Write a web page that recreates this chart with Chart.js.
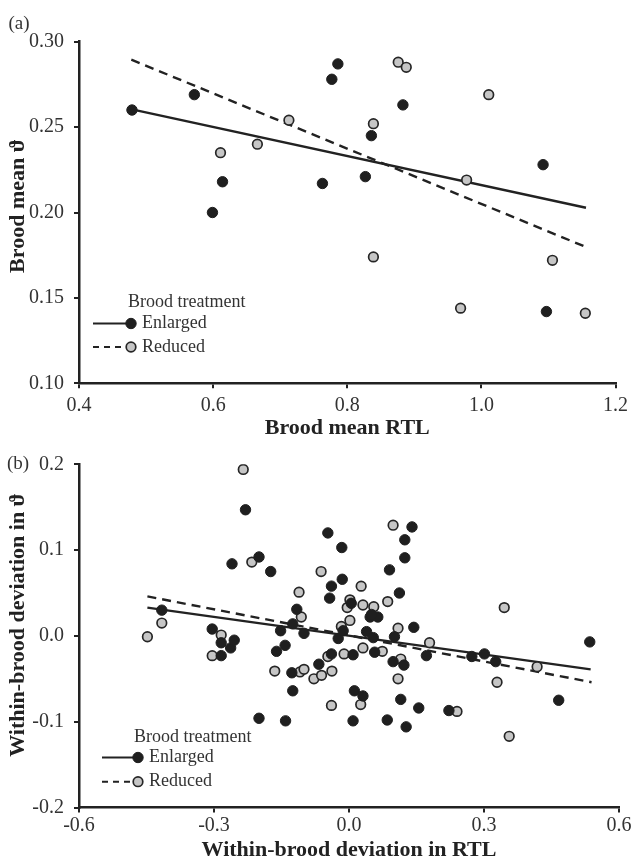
<!DOCTYPE html>
<html>
<head>
<meta charset="utf-8">
<script src="https://cdn.jsdelivr.net/npm/chart.js@4.4.1/dist/chart.umd.min.js"></script>
<style>
  body { margin: 0; background: #fff; }
  .panel { position: absolute; left: 0; width: 633px; }
  #wrapA { top: 0; height: 450px; }
  #wrapB { top: 440px; height: 424px; }
</style>
</head>
<body>
<div class="panel" id="wrapA"><canvas id="chartA" width="633" height="450"></canvas></div>
<div class="panel" id="wrapB"><canvas id="chartB" width="633" height="424"></canvas></div>
<script>
/* ---------- DATA ---------- */

const groups = ["Enlarged", "Reduced"];

// (a) brood means
const aEnlargedX = [0.479, 0.572, 0.599, 0.614, 0.763, 0.777, 0.786, 0.827, 0.836, 0.883, 1.092, 1.097];
const aEnlargedY = [0.260, 0.269, 0.200, 0.218, 0.217, 0.278, 0.287, 0.221, 0.245, 0.263, 0.228, 0.142];
const aReducedX = [0.611, 0.666, 0.713, 0.839, 0.839, 0.876, 0.888, 0.969, 0.978, 1.011, 1.106, 1.155];
const aReducedY = [0.235, 0.240, 0.254, 0.252, 0.174, 0.288, 0.285, 0.144, 0.219, 0.269, 0.172, 0.141];
const aFitEnlargedX = [0.479, 1.156];
const aFitEnlargedY = [0.2604, 0.2028];
const aFitReducedX = [0.478, 1.159];
const aFitReducedY = [0.2895, 0.1793];

// (b) within-brood deviations
const bEnlargedX = [-0.416, -0.304, -0.284, -0.284, -0.263, -0.255, -0.260, -0.230, -0.200, -0.174,
  -0.200, -0.152, -0.161, -0.142, -0.141, -0.127, -0.125, -0.125, -0.116, -0.100,
  -0.067, -0.047, -0.039, -0.043, -0.039, -0.024, -0.016, -0.015, -0.013, 0.005,
  0.009, 0.012, 0.031, 0.009, 0.039, 0.047, 0.054, 0.057, 0.064, 0.050,
  0.090, 0.085, 0.101, 0.098, 0.112, 0.124, 0.124, 0.115, 0.122, 0.127,
  0.140, 0.144, 0.155, 0.172, 0.222, 0.273, 0.301, 0.326, 0.466, 0.535];
const bEnlargedY = [0.030, 0.008, -0.008, -0.023, -0.014, -0.005, 0.084, 0.147, 0.092, 0.075,
  -0.096, 0.006, -0.018, -0.011, -0.099, -0.043, -0.064, 0.014, 0.031, 0.003,
  -0.033, 0.120, 0.058, 0.044, -0.021, -0.003, 0.103, 0.066, 0.006, 0.038,
  -0.022, -0.064, -0.070, -0.099, 0.005, 0.022, -0.002, -0.019, 0.022, 0.025,
  0.077, -0.098, -0.001, -0.030, 0.050, 0.091, 0.112, -0.074, -0.034, -0.106,
  0.127, 0.010, -0.084, -0.023, -0.087, -0.024, -0.021, -0.030, -0.075, -0.007];
const bReducedX = [-0.448, -0.416, -0.304, -0.284, -0.235, -0.216, -0.165, -0.111, -0.106, -0.109,
  -0.100, -0.078, -0.061, -0.062, -0.047, -0.038, -0.039, -0.017, -0.011, -0.004,
  0.002, 0.002, 0.027, 0.031, 0.031, 0.026, 0.055, 0.074, 0.086, 0.098,
  0.109, 0.115, 0.109, 0.179, 0.240, 0.329, 0.345, 0.356, 0.418];
const bReducedY = [-0.001, 0.015, -0.023, 0.001, 0.194, 0.086, -0.041, 0.051, 0.022, -0.042,
  -0.039, -0.050, -0.046, 0.075, -0.024, -0.041, -0.081, 0.011, -0.021, 0.033,
  0.042, 0.018, 0.058, 0.036, -0.014, -0.080, 0.034, -0.018, 0.040, 0.129,
  0.009, -0.027, -0.050, -0.008, -0.088, -0.054, 0.033, -0.117, -0.036];
const bFitEnlargedX = [-0.448, 0.537];
const bFitEnlargedY = [0.033, -0.039];
const bFitReducedX = [-0.448, 0.539];
const bFitReducedY = [0.046, -0.054];

/* ---------- STYLE ---------- */

const SERIF = '"Liberation Serif", "DejaVu Serif", serif';
const INK = "#222";
const TXT = "#333";
const DARK_FILL = "#1f1f1f";
const LIGHT_FILL = "#c6c6c6";

Chart.defaults.font.family = SERIF;

function pts(xs, ys) {
  return xs.map((x, i) => ({ x, y: ys[i] }));
}

function fmt(v, d) {
  if (Math.abs(v) < 1e-9) v = 0;
  return v.toFixed(d);
}

/* ---------- PLUGIN: TAG, Y TITLE, LEGEND ---------- */

const panelDecor = {
  id: "panelDecor",
  afterDraw(chart, args, o) {
    const ctx = chart.ctx;
    ctx.save();
    ctx.fillStyle = TXT;
    ctx.textBaseline = "middle";

    ctx.textAlign = "center";
    ctx.font = "19px " + SERIF;
    ctx.fillText(o.tag, o.tagX, o.tagY);

    // y title sits a little above the axis middle in the original
    ctx.save();
    ctx.translate(o.yTitleX, o.yTitleY);
    ctx.rotate(-Math.PI / 2);
    ctx.fillStyle = INK;
    ctx.font = "bold 22px " + SERIF;
    ctx.fillText(o.yTitle, 0, 0);
    ctx.restore();

    ctx.textAlign = "left";
    ctx.font = "18px " + SERIF;
    ctx.fillText("Brood treatment", o.titleX, o.titleY);

    groups.forEach((g, i) => {
      const pt = chart.data.datasets[i];
      const ln = chart.data.datasets[i + 2];
      const y = o.rowY[i];

      ctx.strokeStyle = ln.borderColor;
      ctx.lineWidth = 2;
      ctx.setLineDash(ln.borderDash ? [6, 5] : []);
      ctx.beginPath();
      ctx.moveTo(o.lineX0, y);
      ctx.lineTo(o.markX, y);
      ctx.stroke();
      ctx.setLineDash([]);

      ctx.beginPath();
      ctx.arc(o.markX, y, pt.pointRadius, 0, Math.PI * 2);
      ctx.fillStyle = pt.backgroundColor;
      ctx.fill();
      ctx.lineWidth = pt.borderWidth;
      ctx.strokeStyle = pt.borderColor;
      ctx.stroke();

      ctx.fillStyle = TXT;
      ctx.fillText(g, o.textX, y);
    });
    ctx.restore();
  }
};

/* ---------- CHART ---------- */

function makePanel(el, cfg) {
  const tickFont = { family: SERIF, size: 20 };
  const titleFont = { family: SERIF, size: 22, weight: "bold" };
  const grid = { drawOnChartArea: false, color: INK, lineWidth: 2, tickLength: 5 };
  const border = { color: INK, width: 2.5 };

  return new Chart(document.getElementById(el), {
    type: "scatter",
    data: {
      datasets: [
        {
          label: groups[0],
          data: pts(cfg.enX, cfg.enY),
          backgroundColor: DARK_FILL,
          borderColor: DARK_FILL,
          borderWidth: 1,
          pointRadius: 5.2
        },
        {
          label: groups[1],
          data: pts(cfg.reX, cfg.reY),
          backgroundColor: LIGHT_FILL,
          borderColor: "#262626",
          borderWidth: 1.7,
          pointRadius: 4.8
        },
        {
          type: "line",
          label: groups[0] + " fit",
          data: pts(cfg.fitEnX, cfg.fitEnY),
          borderColor: INK,
          borderWidth: 2.4,
          pointRadius: 0,
          fill: false
        },
        {
          type: "line",
          label: groups[1] + " fit",
          data: pts(cfg.fitReX, cfg.fitReY),
          borderColor: INK,
          borderWidth: 2.4,
          borderDash: [9, 6],
          pointRadius: 0,
          fill: false
        }
      ]
    },
    options: {
      responsive: false,
      animation: false,
      events: [],
      layout: { autoPadding: false, padding: cfg.padding },
      plugins: {
        legend: { display: false },
        tooltip: { enabled: false },
        panelDecor: cfg.decor
      },
      scales: {
        x: {
          type: "linear",
          min: cfg.xMin,
          max: cfg.xMax,
          ticks: {
            stepSize: cfg.xStep,
            padding: cfg.xTickPad,
            color: TXT,
            font: tickFont,
            callback: v => fmt(v, 1)
          },
          grid,
          border,
          title: {
            display: true,
            text: cfg.xTitle,
            color: INK,
            font: titleFont,
            padding: { top: 0, bottom: cfg.xTitlePad }
          },
          afterFit: s => { s.height = cfg.xHeight; }
        },
        y: {
          type: "linear",
          min: cfg.yMin,
          max: cfg.yMax,
          ticks: {
            stepSize: cfg.yStep,
            padding: 10,
            color: TXT,
            font: tickFont,
            callback: v => fmt(v, cfg.yDigits)
          },
          grid,
          border,
          afterFit: s => { s.width = 79; }
        }
      }
    },
    plugins: [panelDecor]
  });
}

/* ---------- INIT ---------- */

makePanel("chartA", {
  enX: aEnlargedX, enY: aEnlargedY,
  reX: aReducedX, reY: aReducedY,
  fitEnX: aFitEnlargedX, fitEnY: aFitEnlargedY,
  fitReX: aFitReducedX, fitReY: aFitReducedY,
  xMin: 0.4, xMax: 1.2, xStep: 0.2,
  yMin: 0.1, yMax: 0.3, yStep: 0.05, yDigits: 2,
  xTitle: "Brood mean RTL",
  padding: { left: 0, top: 41.7, right: 15, bottom: 0 },
  xHeight: 66.7, xTickPad: 5, xTitlePad: 8,
  decor: {
    tag: "(a)", tagX: 19, tagY: 24,
    yTitle: "Brood mean \u03D1", yTitleX: 18, yTitleY: 206,
    titleX: 128, titleY: 302,
    lineX0: 93, markX: 131, textX: 142,
    rowY: [323.5, 347]
  }
});

makePanel("chartB", {
  enX: bEnlargedX, enY: bEnlargedY,
  reX: bReducedX, reY: bReducedY,
  fitEnX: bFitEnlargedX, fitEnY: bFitEnlargedY,
  fitReX: bFitReducedX, fitReY: bFitReducedY,
  xMin: -0.6, xMax: 0.6, xStep: 0.3,
  yMin: -0.2, yMax: 0.2, yStep: 0.1, yDigits: 1,
  xTitle: "Within-brood deviation in RTL",
  padding: { left: 0, top: 24.3, right: 11, bottom: 0 },
  xHeight: 56.5, xTickPad: 1.5, xTitlePad: 0,
  decor: {
    tag: "(b)", tagX: 18, tagY: 24,
    yTitle: "Within-brood deviation in \u03D1", yTitleX: 18, yTitleY: 185,
    titleX: 134, titleY: 297,
    lineX0: 102, markX: 138, textX: 149,
    rowY: [317.5, 341.7]
  }
});
</script>
</body>
</html>
